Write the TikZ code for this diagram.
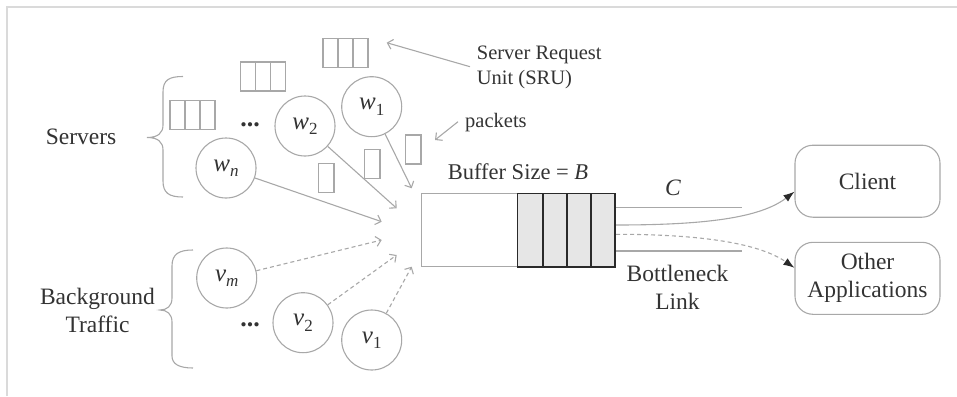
\documentclass[tikz,border=0pt]{standalone}
\usepackage{fontspec}
\setmainfont{Liberation Serif}
\usetikzlibrary{arrows.meta}
\definecolor{lg}{HTML}{A8A8A8}
\definecolor{tx}{HTML}{333333}
\definecolor{dk}{HTML}{2A2A2A}
\definecolor{cellfill}{HTML}{E6E6E6}
\definecolor{framec}{HTML}{DADADA}
\newcommand{\lblsub}[2]{\textit{#1}\raisebox{-0.45ex}{\fontsize{17}{17}\selectfont #2}}
\begin{document}
\begin{tikzpicture}[x=1pt,y=-1pt,
  gline/.style={draw=lg, line width=1.1pt},
  garrow/.style={gline, -{Straight Barb[length=5pt,width=10pt]}},
  gdash/.style={garrow, dash pattern=on 4pt off 3pt},
  circ/.style={circle, draw=lg, line width=1.1pt, minimum size=60pt, inner sep=0pt, text=tx, font=\fontsize{25}{25}\selectfont},
  lbl/.style={text=tx, inner sep=0pt, font=\fontsize{23.5}{28}\selectfont},
  smalllbl/.style={text=tx, inner sep=0pt, font=\fontsize{20.5}{25}\selectfont},
  endbox/.style={draw=lg, line width=1.1pt, rounded corners=18pt, minimum width=145pt, minimum height=72pt, text=tx, align=center, font=\fontsize{23.5}{28}\selectfont},
  blackhead/.style={-{Latex[length=11pt,width=8pt,color=dk]}},
  dotsl/.style={text=tx, font=\fontsize{26}{26}\selectfont\bfseries, anchor=base, inner sep=0pt}
]
\useasboundingbox (0,0) rectangle (957,396);
% frame
\draw[framec, line width=1.6pt] (7,396) -- (7,7) -- (957,7);

% server request units (3-cell boxes)
\foreach \x/\y in {323/38.5, 240.5/62, 170/100.5}{
  \draw[gline] (\x,\y) rectangle ++(45,29);
  \draw[gline] (\x+15,\y) -- ++(0,29) (\x+30,\y) -- ++(0,29);
}
% single packets
\foreach \x/\y in {318.5/163.5, 364.5/149.5, 405.5/135}{
  \draw[gline] (\x,\y) rectangle ++(15.5,29);
}

% circles
\node[circ] (w1) at (371.7,106.7) {\lblsub{w}{1}};
\node[circ] (w2) at (305,126) {\lblsub{w}{2}};
\node[circ] (wn) at (226,168) {\lblsub{w}{\textit{n}}};
\node[circ] (vm) at (226.7,278) {\lblsub{v}{\textit{m}}};
\node[circ] (v2) at (303,322.7) {\lblsub{v}{2}};
\node[circ] (v1) at (371.7,340) {\lblsub{v}{1}};

% dots
\node[dotsl] (dw) at (250,126.5) {...};
\node[dotsl] (dv) at (250,326.5) {...};

% arrow targets
\coordinate (tw1) at (411.7,188.3);
\coordinate (tw2) at (396.7,208.3);
\coordinate (twn) at (381.7,221.7);
\coordinate (tvm) at (381.7,240);
\coordinate (tv2) at (396.7,255);
\coordinate (tv1) at (411.7,266.7);
\draw[garrow] (w1) -- (tw1);
\draw[garrow] (w2) -- (tw2);
\draw[garrow] (wn) -- (twn);
\draw[gdash] (vm) -- (tvm);
\draw[gdash] (v2) -- (tv2);
\draw[gdash] (v1) -- (tv1);

% braces
\draw[gline] (183,76.5) .. controls (169,76.5) and (163,80) .. (163,92) -- (163,125)
  .. controls (163,133) and (158,137.5) .. (147,137.5)
  .. controls (158,137.5) and (163,142) .. (163,150) -- (163,181)
  .. controls (163,193) and (169,197) .. (183,197);
\draw[gline] (193,250) .. controls (179,250) and (172,254) .. (172,266) -- (172,298)
  .. controls (172,306) and (167,310) .. (160,310)
  .. controls (167,310) and (172,314) .. (172,322) -- (172,356)
  .. controls (172,364) and (179,368) .. (193,368);

% labels left
\node[lbl] (srv) at (81,137) {Servers};
\node[lbl, align=center] (bg) at (97.5,310.5) {Background\\Traffic};

% SRU and packets labels
\node[smalllbl, align=left, anchor=west] (sru) at (476.7,67.5) {Server Request\\Unit (SRU)};
\node[smalllbl, anchor=west] (pk) at (465,123) {packets};
\coordinate (sruA) at (470,66.7);
\coordinate (sruB) at (386.7,42.7);
\coordinate (pkA) at (458,121.7);
\coordinate (pkB) at (435,140);
\draw[garrow] (sruA) -- (sruB);
\draw[garrow] (pkA) -- (pkB);

% buffer
\node[draw=lg, line width=1.1pt, minimum width=193.3pt, minimum height=73.4pt, inner sep=0pt] (buf) at (518.35,230) {};
\draw[draw=dk, fill=cellfill, line width=1.6pt] (517.3,193.3) rectangle (615,266.7);
\foreach \x in {542.7,566.7,591}{\draw[dk, line width=1.6pt] (\x,193.3) -- (\x,266.7);}
\node[lbl, font=\fontsize{22.5}{27}\selectfont] (bufl) at (518,171.7) {Buffer Size = \textit{B}};

% link
\coordinate (la) at (616,207.3);
\coordinate (lb) at (741.7,207.3);
\coordinate (lc) at (616,251);
\coordinate (ld) at (741.7,251);
\draw[gline] (la) -- (lb);
\draw[gline] (lc) -- (ld);
\node[lbl] (cap) at (673,188) {\textit{C}};
\node[lbl, align=center] (bn) at (677.5,287) {Bottleneck\\Link};

% destinations
\node[endbox] (client) at (867.5,181.2) {Client};
\node[endbox] (other) at (867.5,278.3) {Other\\Applications};
\coordinate (ca) at (616,225);
\coordinate (oa) at (616,234.3);
\draw[gline, blackhead] (ca) .. controls (705,225) and (760,218) .. ([yshift=-10.5pt]client.west);
\draw[gline, blackhead, dash pattern=on 4pt off 3pt] (oa) .. controls (705,234.3) and (760,244) .. ([yshift=10.5pt]other.west);
\end{tikzpicture}
\end{document}
